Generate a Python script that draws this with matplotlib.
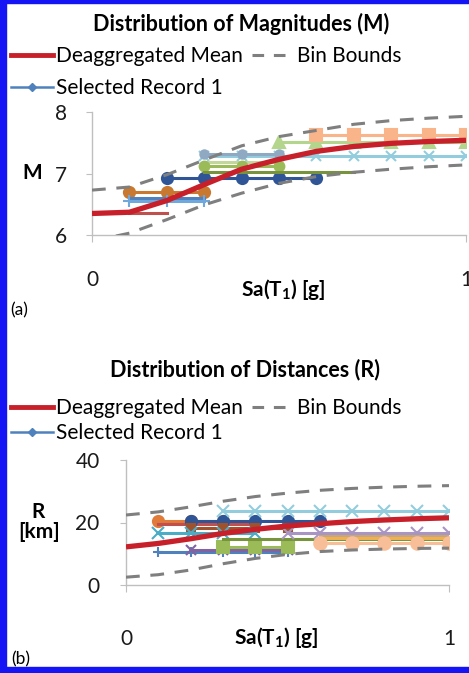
import matplotlib
matplotlib.use('Agg')
import matplotlib.pyplot as plt
from matplotlib.patches import Rectangle
from matplotlib.lines import Line2D

plt.rcParams['font.family'] = ['Lato', 'DejaVu Sans']
plt.rcParams['mathtext.fontset'] = 'custom'
plt.rcParams['mathtext.rm'] = 'Lato'
plt.rcParams['mathtext.it'] = 'Lato:italic'
plt.rcParams['mathtext.bf'] = 'Lato:bold'

# ---------------- data ----------------
sa_grid = [0.0, 0.1, 0.2, 0.3, 0.4, 0.5, 0.6, 0.7, 0.8, 0.9, 1.0]

# Panel (a): magnitudes
mag_mean = [6.35, 6.37, 6.56, 6.82, 7.07, 7.23, 7.36, 7.44, 7.49, 7.52, 7.54]
mag_upper = [6.73, 6.78, 6.98, 7.22, 7.45, 7.60, 7.70, 7.80, 7.86, 7.90, 7.93]
mag_lower = [5.90, 6.03, 6.25, 6.49, 6.68, 6.84, 6.95, 7.02, 7.07, 7.11, 7.14]

mag_rec_level = [6.70, 6.60, 6.55, 6.35, 6.93, 7.29, 7.31, 7.19, 7.13, 7.03, 7.52, 7.62]
mag_rec_start = [0.1, 0.1, 0.1, 0.1, 0.2, 0.3, 0.3, 0.3, 0.3, 0.3, 0.5, 0.6]
mag_rec_end = [0.3, 0.3, 0.3, 0.2, 0.6, 1.0, 0.5, 0.5, 0.5, 0.7, 1.0, 1.0]

# Panel (b): distances
dist_mean = [12.2, 13.3, 14.8, 16.5, 17.8, 18.9, 19.6, 20.3, 20.8, 21.2, 21.5]
dist_upper = [22.4, 23.4, 25.0, 26.8, 28.3, 29.4, 30.3, 30.9, 31.3, 31.6, 31.8]
dist_lower = [2.5, 3.3, 4.8, 6.8, 8.5, 9.8, 10.7, 11.2, 11.5, 11.7, 11.8]

dist_rec_level = [20.6, 19.5, 20.4, 18.2, 16.5, 23.8, 10.6, 11.3, 12.2, 14.8, 16.8, 15.8, 15.2, 13.4]
dist_rec_start = [0.1, 0.1, 0.2, 0.2, 0.1, 0.3, 0.1, 0.2, 0.3, 0.3, 0.5, 0.6, 0.6, 0.6]
dist_rec_end = [0.3, 0.4, 0.6, 0.5, 0.4, 1.0, 0.5, 0.5, 0.5, 1.0, 1.0, 1.0, 1.0, 1.0]

# ---------------- styles ----------------
mag_rec_style = [
    ('#C9782F', 'o', 8), ('#4F81BD', '', 0), ('#6FA8DC', '+', 8), ('#C0504D', '', 0),
    ('#2F5597', 'o', 8), ('#93CDDD', 'x', 7), ('#8EA9C1', 'o', 6), ('#C3D69B', '', 0),
    ('#9BBB59', 'o', 7), ('#77933C', '', 0), ('#B3D68C', '^', 8), ('#F9B48A', 's', 8),
]
dist_rec_style = [
    ('#E07B39', 'o', 8), ('#C0504D', '', 0), ('#2F5597', 'o', 8), ('#A0522D', 's', 6),
    ('#4BACC6', 'x', 8), ('#93CDDD', 'x', 8), ('#4F81BD', '+', 7), ('#8064A2', 'x', 7),
    ('#9BBB59', 's', 9), ('#77933C', '', 0), ('#A995C4', 'x', 8), ('#C4A77D', '', 0),
    ('#F0B050', '', 0), ('#F8BE98', 'o', 9),
]

W, H = 469, 673
fig = plt.figure(figsize=(W / 100, H / 100), dpi=100)

RED = '#C8202A'
GREY = '#7F7F7F'
SPINE = '#BFBFBF'
FS = 15


def fx(px):
    return px / W


def fy(py):
    return 1 - py / H


def draw_panel(ax, mean, upper, lower, lev, st, en, styles, ylim, yticks, xpad, ypad):
    for level, s0, s1, (c, m, ms) in zip(lev, st, en, styles):
        xs = [s for s in sa_grid if s0 - 1e-9 <= s <= s1 + 1e-9]
        ys = [level] * len(xs)
        ax.plot(xs, ys, color=c, lw=2.2, marker=m if m else None, ms=ms,
                mew=1.5, zorder=2)
    ax.plot(sa_grid, upper, color=GREY, lw=2.2, dashes=(4.5, 3.5), zorder=3)
    ax.plot(sa_grid, lower, color=GREY, lw=2.2, dashes=(4.5, 3.5), zorder=3)
    ax.plot(sa_grid, mean, color=RED, lw=3.8, zorder=4, solid_capstyle='butt')
    ax.set_xlim(0, 1)
    ax.set_ylim(*ylim)
    ax.set_yticks(yticks)
    ax.set_xticks([0, 1])
    ax.set_xticklabels(['0', '1'])
    for s in ['top', 'right']:
        ax.spines[s].set_visible(False)
    for s in ['left', 'bottom']:
        ax.spines[s].set_color(SPINE)
        ax.spines[s].set_linewidth(1.0)
    ax.tick_params(axis='y', direction='out', length=4, color=SPINE,
                   labelsize=FS, pad=ypad, labelcolor='#1a1a1a')
    ax.tick_params(axis='x', direction='out', length=5, color=SPINE,
                   labelsize=FS, pad=xpad, labelcolor='#1a1a1a')


def legend(y_top, spacing):
    h_mean = Line2D([], [], color=RED, lw=3.5)
    h_rec = Line2D([], [], color='#4F81BD', lw=1.8, marker='D', ms=4.5)
    h_bnd = Line2D([], [], color=GREY, lw=2.2, dashes=(3.8, 3.2))
    fig.legend([h_mean, h_rec, h_bnd],
               ['Deaggregated Mean', 'Selected Record 1', 'Bin Bounds'],
               loc='upper left', bbox_to_anchor=(fx(11), fy(y_top)),
               bbox_transform=fig.transFigure, frameon=False, ncol=2,
               fontsize=FS, borderpad=0, borderaxespad=0, handlelength=2.0,
               handletextpad=0.15, columnspacing=0.45, labelspacing=spacing)


# Panel (a)
ax1 = fig.add_axes([fx(92), fy(235), fx(466 - 92), (235 - 112) / H])
draw_panel(ax1, mag_mean, mag_upper, mag_lower, mag_rec_level, mag_rec_start,
           mag_rec_end, mag_rec_style, (6, 8), [6, 7, 8], 20, 14)
fig.text(fx(241), fy(24), 'Distribution of Magnitudes (M)', ha='center',
         va='center', fontsize=15.5, fontweight='bold')
legend(46, 0.58)
fig.text(fx(32), fy(173), 'M', ha='center', va='center', fontsize=FS,
         fontweight='bold')
fig.text(fx(283), fy(289), r'Sa(T$_{\mathbf{1}}$) [g]', ha='center',
         va='center', fontsize=FS, fontweight='bold')
fig.text(fx(19), fy(310), '(a)', ha='center', va='center', fontsize=12.5)

# Panel (b)
ax2 = fig.add_axes([fx(126), fy(585), fx(449 - 126), (585 - 460) / H])
draw_panel(ax2, dist_mean, dist_upper, dist_lower, dist_rec_level,
           dist_rec_start, dist_rec_end, dist_rec_style, (0, 40),
           [0, 20, 40], 27, 15)
fig.text(fx(245), fy(370), 'Distribution of Distances (R)', ha='center',
         va='center', fontsize=15.5, fontweight='bold')
legend(398, 0.24)
fig.text(fx(38), fy(512), 'R', ha='center', va='center', fontsize=FS,
         fontweight='bold')
fig.text(fx(39), fy(532), '[km]', ha='center', va='center', fontsize=FS,
         fontweight='bold')
fig.text(fx(276), fy(637), r'Sa(T$_{\mathbf{1}}$) [g]', ha='center',
         va='center', fontsize=FS, fontweight='bold')
fig.text(fx(21), fy(659), '(b)', ha='center', va='center', fontsize=12.5)

# Blue frame (left, top, bottom)
BLUE = '#1414F5'
fig.patches.append(Rectangle((0, 0), fx(6), 1, transform=fig.transFigure,
                             color=BLUE, zorder=10))
fig.patches.append(Rectangle((0, fy(3)), 1, 3 / H, transform=fig.transFigure,
                             color=BLUE, zorder=10))
fig.patches.append(Rectangle((0, 0), 1, 6 / H, transform=fig.transFigure,
                             color=BLUE, zorder=10))

fig.savefig('out.png', dpi=100)
